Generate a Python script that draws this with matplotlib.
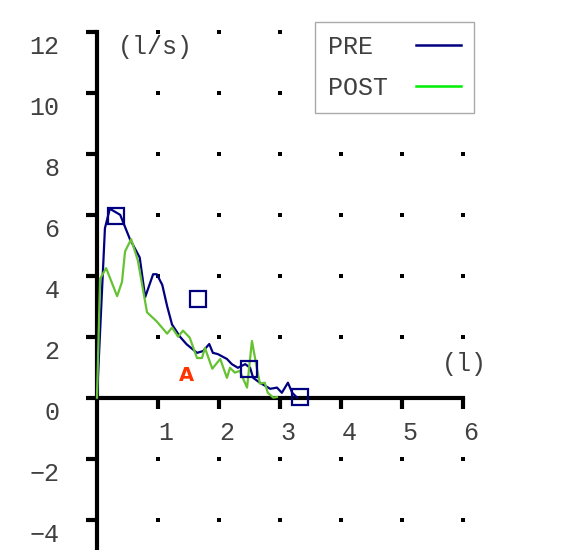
import matplotlib
matplotlib.use("Agg")
import matplotlib.pyplot as plt
import matplotlib.transforms as mtrans
from matplotlib.lines import Line2D
import numpy as np

# ---- data ----
pre_x = [0.0, 0.13, 0.21, 0.38, 0.54, 0.70, 0.79, 0.92, 0.98, 1.07, 1.15, 1.23, 1.36,
         1.47, 1.64, 1.74, 1.84, 1.90, 1.98, 2.13, 2.21, 2.31, 2.43, 2.51, 2.56, 2.67,
         2.84, 2.95, 3.03, 3.13, 3.20, 3.28]
pre_y = [0.0, 5.56, 6.2, 6.0, 5.2, 4.6, 3.3, 4.05, 4.05, 3.7, 3.0, 2.4, 2.0,
         1.75, 1.47, 1.53, 1.76, 1.47, 1.43, 1.27, 1.1, 0.98, 1.1, 0.98, 0.65, 0.49,
         0.29, 0.33, 0.16, 0.49, 0.16, 0.0]

post_x = [0.0, 0.05, 0.15, 0.33, 0.41, 0.46, 0.56, 0.67, 0.82, 0.98, 1.15, 1.23, 1.33,
          1.41, 1.52, 1.64, 1.72, 1.77, 1.89, 2.02, 2.13, 2.18, 2.26, 2.34, 2.46, 2.54,
          2.62, 2.67, 2.75, 2.80, 2.89, 2.95]
post_y = [0.0, 3.9, 4.25, 3.33, 3.8, 4.8, 5.2, 4.5, 2.8, 2.5, 2.1, 2.3, 2.0,
          2.2, 1.97, 1.3, 1.3, 1.63, 0.95, 1.27, 0.65, 0.98, 0.82, 0.88, 0.33, 1.86,
          0.98, 0.46, 0.49, 0.16, 0.0, 0.02]

marker_x = [0.31, 1.66, 2.49, 3.33]
marker_y = [5.95, 3.24, 0.95, 0.02]

x_ticks = [1, 2, 3, 4, 5, 6]
x_labels = ["1", "2", "3", "4", "5", "6"]
y_ticks = [-4, -2, 0, 2, 4, 6, 8, 10, 12]
y_labels = ["\u22124", "\u22122", "0", "2", "4", "6", "8", "10", "12"]
dot_x = [1, 2, 3, 4, 5, 6]
dot_y = [-4, -2, 2, 4, 6, 8, 10, 12]

series_names = ["PRE", "POST"]
pre_color = "#000080"
post_color = "#66c233"
post_legend_color = "#00ee00"

mono = "Liberation Mono"
txt_color = "#404040"
fs = 18

W, H = 587, 550
fig = plt.figure(figsize=(W / 100, H / 100), dpi=100)
left = 97 / W
right = 463 / W
top = 1 - 32 / H
ax = fig.add_axes([left, 0, right - left, top])
ax.set_xlim(0, 6)
ax.set_ylim(-5, 12)

for s in ["top", "right"]:
    ax.spines[s].set_visible(False)
for s in ["left", "bottom"]:
    ax.spines[s].set_linewidth(3)
    ax.spines[s].set_color("black")
    ax.spines[s].set_position(("data", 0))

ax.set_xticks(x_ticks)
ax.set_xticklabels(x_labels)
ax.set_yticks(y_ticks)
ax.set_yticklabels(y_labels)
ax.tick_params(axis="y", direction="out", length=8, width=3, color="black",
               pad=19, labelsize=fs, labelcolor=txt_color)
ax.tick_params(axis="x", direction="out", length=8, width=3, color="black",
               pad=9, labelsize=fs, labelcolor=txt_color)
for lab in ax.get_yticklabels():
    lab.set_fontfamily(mono)
    lab.set_transform(lab.get_transform() + mtrans.ScaledTranslation(0, -13 / 100, fig.dpi_scale_trans))
for lab in ax.get_xticklabels():
    lab.set_fontfamily(mono)
    lab.set_transform(lab.get_transform() + mtrans.ScaledTranslation(8 / 100, 0, fig.dpi_scale_trans))

# dot grid
gx, gy = np.meshgrid(dot_x, dot_y)
ax.scatter(gx.ravel(), gy.ravel(), marker="s", s=7, color="black", linewidths=0,
           zorder=1, clip_on=False)

ax.plot(pre_x, pre_y, color=pre_color, lw=1.6, zorder=3, clip_on=False)
ax.plot(post_x, post_y, color=post_color, lw=1.6, zorder=4, clip_on=False)
ax.plot(marker_x, marker_y, linestyle="none", marker="s", markersize=12,
        markerfacecolor="none", markeredgecolor=pre_color, markeredgewidth=1.6,
        zorder=5, clip_on=False)

ax.text(1.46, 0.72, "A", color="#ff3300", fontsize=14, fontweight="bold",
        family="DejaVu Sans", ha="center", va="center", zorder=6)
ax.text(0.35, 11.5, "(l/s)", fontfamily=mono, fontsize=fs, color=txt_color,
        ha="left", va="center")
ax.text(6.02, 1.1, "(l)", fontfamily=mono, fontsize=fs, color=txt_color,
        ha="center", va="center", clip_on=False)

handles = [Line2D([], [], color=pre_color, lw=1.8),
           Line2D([], [], color=post_legend_color, lw=1.8)]
width = max(len(n) for n in series_names)
leg_labels = [n.ljust(width).replace(" ", "\u00a0") for n in series_names]
leg = ax.legend(handles, leg_labels, loc="upper left",
                bbox_to_anchor=(315 / W, 1 - 22 / H), bbox_transform=fig.transFigure,
                markerfirst=False, fancybox=False, framealpha=1, edgecolor="#aaaaaa",
                prop={"family": mono, "size": fs}, handlelength=1.8,
                handletextpad=1.15, borderpad=0.5, labelspacing=0.7,
                borderaxespad=0)
leg.get_frame().set_linewidth(1.0)
for t in leg.get_texts():
    t.set_color(txt_color)
leg.set_zorder(10)

fig.savefig("out.png", dpi=100)
